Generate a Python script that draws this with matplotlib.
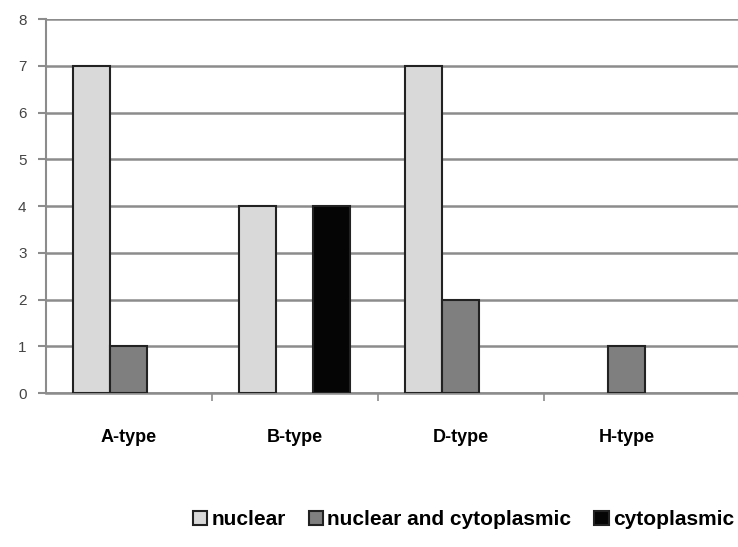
import matplotlib.pyplot as plt
import numpy as np

categories = ['A-type', 'B-type', 'D-type', 'H-type']
series = ['nuclear', 'nuclear and cytoplasmic', 'cytoplasmic']
nuclear = [7, 4, 7, 0]
nuc_cyto = [1, 0, 2, 1]
cyto = [0, 4, 0, 0]

colors = ['#d9d9d9', '#7f7f7f', '#050505']

plt.rcParams['font.family'] = ['Liberation Sans', 'DejaVu Sans']

fig = plt.figure(figsize=(7.38, 5.47), dpi=100)
ax = fig.add_axes([0.0623, 0.2815, 0.9377, 0.6837])

x = np.arange(len(categories))
w = 0.223
for i, (vals, name) in enumerate(zip([nuclear, nuc_cyto, cyto], series)):
    vals = np.array(vals, dtype=float)
    keep = vals > 0
    # empty bars are not drawn (no flat edge line)
    ax.bar((x + (i - 1) * w)[keep], vals[keep], w, color=colors[i], edgecolor='#222222',
           linewidth=1.5, label=name, zorder=3)

ax.set_ylim(0, 8)
ax.set_xlim(-0.5, 3.67)
ax.set_yticks(range(0, 9))
ax.yaxis.grid(True, color='#8c8c8c', linewidth=1.8, zorder=0)
for s in ['top', 'right']:
    ax.spines[s].set_visible(False)
ax.spines['left'].set_color('#8c8c8c')
ax.spines['left'].set_linewidth(1.5)
ax.spines['bottom'].set_color('#8c8c8c')
ax.spines['bottom'].set_linewidth(1.8)
ax.tick_params(axis='y', colors='#8c8c8c', length=6, width=1.5, labelcolor='#444444',
               labelsize=11, pad=8)
ax.set_xticks(x)
ax.set_xticklabels(categories, fontsize=13, fontweight='bold')
ax.tick_params(axis='x', length=0, pad=26)
ax.set_xticks([0.5, 1.5, 2.5], minor=True)
ax.tick_params(axis='x', which='minor', length=6, width=1.2, colors='#8c8c8c')

fig.legend(loc='center', bbox_to_anchor=(0.628, 0.05), ncol=3, frameon=False,
           prop={'size': 15, 'weight': 'bold'}, handlelength=0.7, handleheight=0.7,
           handletextpad=0.2, columnspacing=1.1)

plt.savefig('out.png', dpi=100)
